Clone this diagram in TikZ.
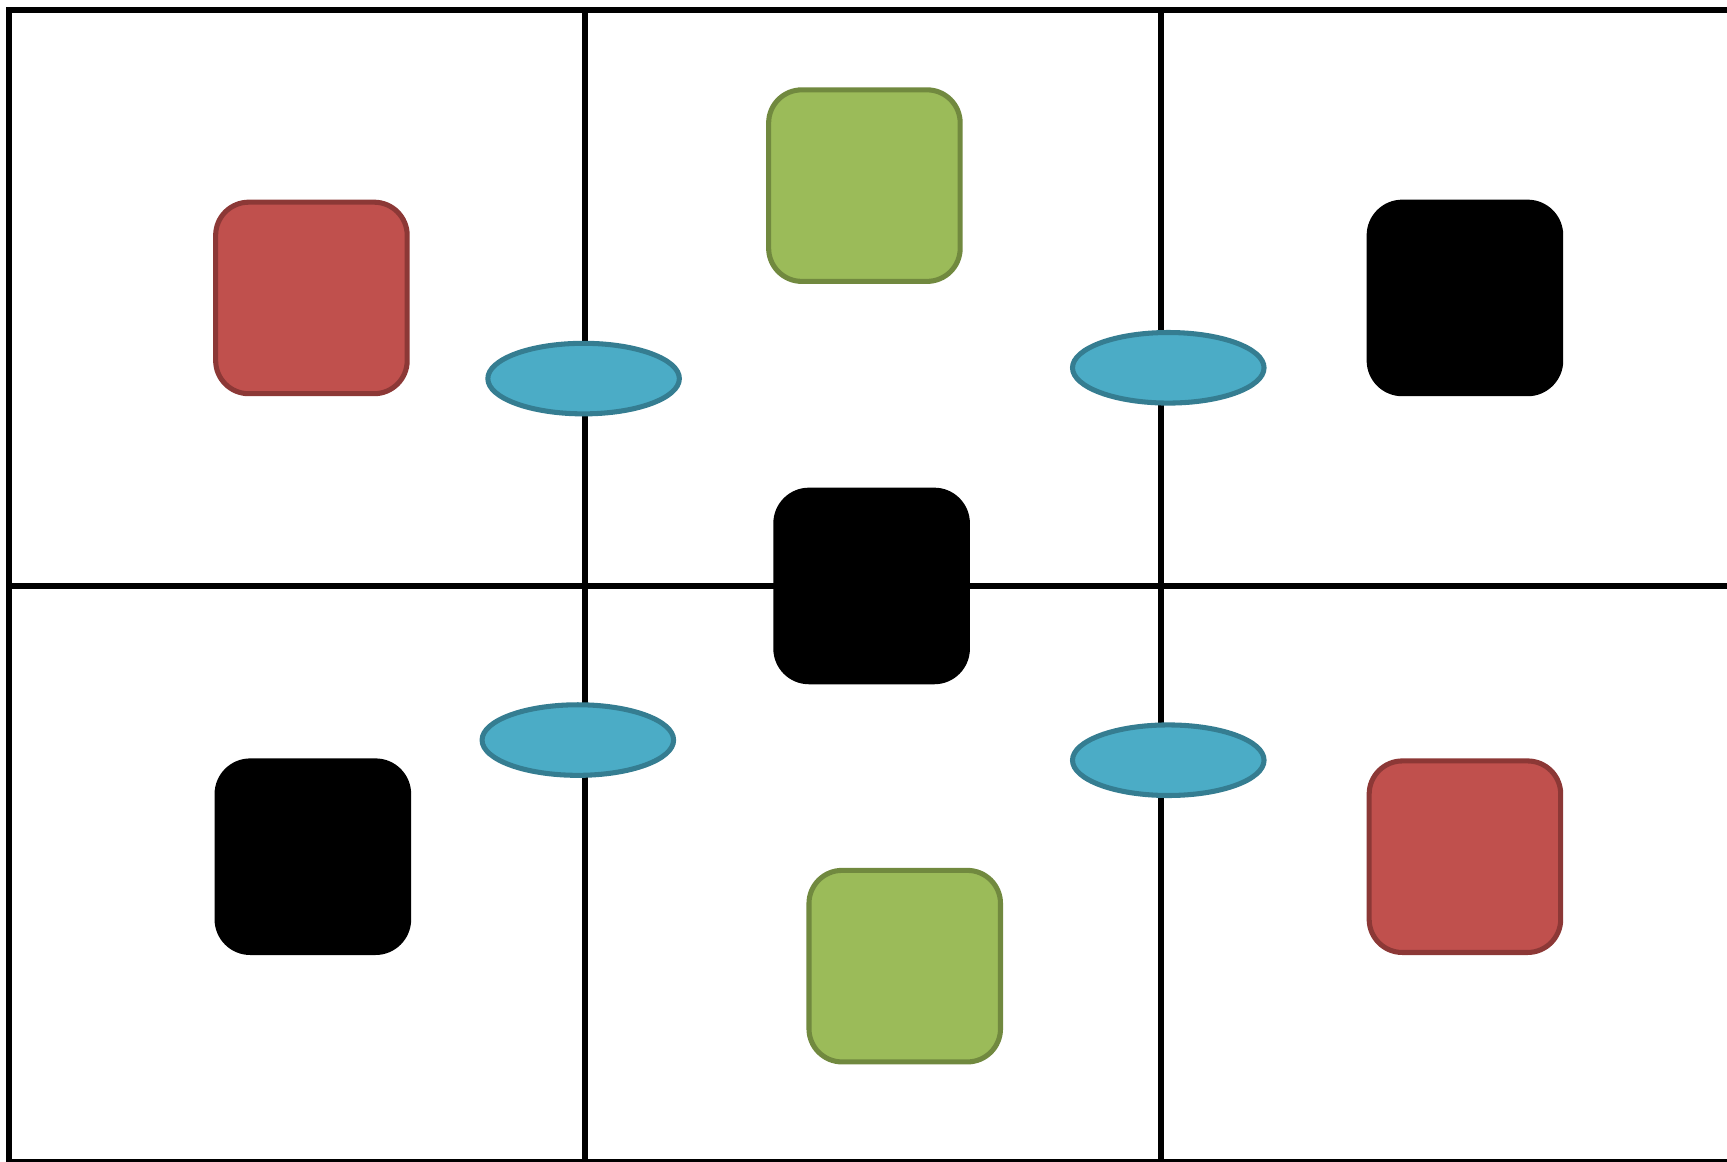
\documentclass[tikz,border=0pt]{standalone}
\usepackage{tikz}
\usetikzlibrary{shapes.geometric}

\definecolor{tilered}{HTML}{C0504D}
\definecolor{tilereddark}{HTML}{8C3836}
\definecolor{tilegreen}{HTML}{9BBB59}
\definecolor{tilegreendark}{HTML}{71893F}
\definecolor{lensblue}{HTML}{4BACC6}
\definecolor{lensbluedark}{HTML}{357D91}

\begin{document}
\begin{tikzpicture}[
					gline/.style={draw=black,line width=1.1pt},
					tile/.style={rectangle,rounded corners=0.23cm,minimum size=1.33cm,inner sep=0pt,line width=1pt},
					redtile/.style={tile,fill=tilered,draw=tilereddark},
					greentile/.style={tile,fill=tilegreen,draw=tilegreendark},
					blacktile/.style={tile,fill=black,draw=black},
					lens/.style={ellipse,minimum width=1.33cm,minimum height=0.49cm,inner sep=0pt,line width=1pt,fill=lensblue,draw=lensbluedark}
					]
					\useasboundingbox (-0.0625,0.007) rectangle (11.93,8.069);
					\clip (-0.0625,0.007) rectangle (11.93,8.069);
					\draw[gline] (0,0) rectangle (12,8);
					\foreach \x in {4,8}{
						\draw[gline] (\x,0) -- (\x,8);
					}
					\draw[gline] (0,4) -- (12,4);
					\node[redtile] (r1) at (2.10,6.00) {};
					\node[greentile] (g1) at (5.94,6.78) {};
					\node[blacktile] (b1) at (10.11,6.00) {};
					\node[blacktile] (b2) at (5.99,4.00) {};
					\node[blacktile] (b3) at (2.11,2.12) {};
					\node[greentile] (g2) at (6.22,1.36) {};
					\node[redtile] (r2) at (10.11,2.12) {};
					\foreach \i/\x/\y in {1/3.99/5.44,2/8.05/5.515,3/3.95/2.93,4/8.05/2.79}{
						\node[lens] (l\i) at (\x,\y) {};
					}
				\end{tikzpicture}
\end{document}
